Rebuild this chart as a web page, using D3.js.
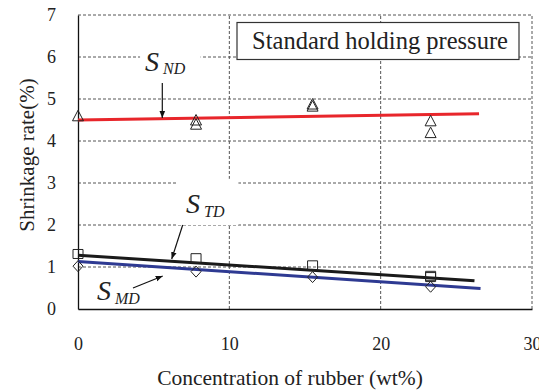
<!DOCTYPE html>
<html>
<head>
<meta charset="utf-8">
<script src="https://cdn.jsdelivr.net/npm/d3@7"></script>
<style>
  body { margin: 0; background: #fff; }
  text { font-family: 'Liberation Serif', 'Times New Roman', serif; fill: #222; }
</style>
</head>
<body>
<div id="chart"></div>
<script>
// measured data (wt% rubber vs shrinkage %)
const xTicks = [0, 10, 20, 30];
const yTicks = [0, 1, 2, 3, 4, 5, 6, 7];

const ndPoints = [[0, 4.6], [7.8, 4.5], [7.8, 4.4], [15.5, 4.88], [15.5, 4.83], [23.3, 4.48], [23.3, 4.2]];
const tdPoints = [[0, 1.31], [7.8, 1.21], [15.5, 1.04], [23.3, 0.79], [23.3, 0.76]];
const mdPoints = [[0, 1.02], [7.8, 0.89], [15.5, 0.76], [23.3, 0.53]];

const ndFit = [[0, 4.5], [26.5, 4.65]];
const tdFit = [[0, 1.28], [26.2, 0.67]];
const mdFit = [[0, 1.13], [26.6, 0.49]];

const width = 539;
const height = 390;
const margin = { top: 15, right: 7, bottom: 81, left: 78 };

const svg = d3
  .select('#chart')
  .append('svg')
  .attr('width', width)
  .attr('height', height);

const x = d3.scaleLinear().domain([0, 30]).range([margin.left, width - margin.right]);
const y = d3.scaleLinear().domain([0, 7]).range([height - margin.bottom, margin.top]);

// grid
const grid = svg.append('g').attr('stroke', '#555').attr('stroke-width', 1).attr('stroke-dasharray', '3,2');
grid
  .selectAll('line.h')
  .data(yTicks.filter((d) => d > 0))
  .enter()
  .append('line')
  .attr('x1', x(0))
  .attr('x2', x(30))
  .attr('y1', (d) => y(d))
  .attr('y2', (d) => y(d));
grid
  .selectAll('line.v')
  .data(xTicks.filter((d) => d > 0))
  .enter()
  .append('line')
  .attr('x1', (d) => x(d))
  .attr('x2', (d) => x(d))
  .attr('y1', y(0))
  .attr('y2', y(7));

// white patches behind the S labels
const patches = [
  { x0: 4.1, x1: 8.1, y0: 6.35, y1: 5.7 },
  { x0: 6.6, x1: 10.6, y0: 3.1, y1: 2.0 }
];
svg
  .selectAll('rect.patch')
  .data(patches)
  .enter()
  .append('rect')
  .attr('x', (d) => x(d.x0))
  .attr('y', (d) => y(d.y0))
  .attr('width', (d) => x(d.x1) - x(d.x0))
  .attr('height', (d) => y(d.y1) - y(d.y0))
  .attr('fill', '#fff');

// axes
const xAxis = svg
  .append('g')
  .attr('transform', `translate(0,${y(0)})`)
  .call(d3.axisBottom(x).tickValues(xTicks).tickFormat(d3.format('d')).tickSize(0).tickSizeOuter(0).tickPadding(28));
const yAxis = svg
  .append('g')
  .attr('transform', `translate(${x(0)},0)`)
  .call(d3.axisLeft(y).tickValues(yTicks).tickFormat(d3.format('d')).tickSize(0).tickSizeOuter(0).tickPadding(22));
[xAxis, yAxis].forEach((g) => {
  g.attr('font-family', "'Liberation Serif', serif").attr('font-size', 18);
  g.select('.domain').attr('stroke', '#111').attr('stroke-width', 1.3);
  g.selectAll('text').attr('fill', '#222');
});

// fitted lines
const line = d3
  .line()
  .x((d) => x(d[0]))
  .y((d) => y(d[1]));
[
  [ndFit, '#e8262b'],
  [tdFit, '#1a1a1a'],
  [mdFit, '#2e3a92']
].forEach(([data, color]) => {
  svg.append('path').datum(data).attr('d', line).attr('fill', 'none').attr('stroke', color).attr('stroke-width', 3);
});

// marker shapes
const triangle = {
  draw(ctx) {
    ctx.moveTo(0, -5.5);
    ctx.lineTo(5.5, 5);
    ctx.lineTo(-5.5, 5);
    ctx.closePath();
  }
};
const square = {
  draw(ctx) {
    ctx.rect(-5, -4.5, 10, 9);
  }
};
const diamond = {
  draw(ctx) {
    ctx.moveTo(0, -5.5);
    ctx.lineTo(5, 0);
    ctx.lineTo(0, 5.5);
    ctx.lineTo(-5, 0);
    ctx.closePath();
  }
};

[
  [ndPoints, triangle],
  [tdPoints, square],
  [mdPoints, diamond]
].forEach(([data, type]) => {
  svg
    .append('g')
    .selectAll('path')
    .data(data)
    .enter()
    .append('path')
    .attr('d', d3.symbol().type(type))
    .attr('transform', (d) => `translate(${x(d[0])},${y(d[1])})`)
    .attr('fill', 'none')
    .attr('stroke', '#222')
    .attr('stroke-width', 1);
});

// S labels with subscripts
const labels = [
  { main: 'S', sub: 'ND', px: 145, py: 70.5 },
  { main: 'S', sub: 'TD', px: 186, py: 213 },
  { main: 'S', sub: 'MD', px: 97, py: 300 }
];
labels.forEach((l) => {
  const t = svg
    .append('text')
    .attr('x', l.px)
    .attr('y', l.py)
    .style('font-style', 'italic')
    .style('font-size', '28px');
  t.append('tspan').text(l.main);
  t.append('tspan').attr('dx', 4).attr('dy', 3.5).style('font-size', '16px').text(l.sub);
});

// arrows
svg
  .append('defs')
  .append('marker')
  .attr('id', 'arrow')
  .attr('viewBox', '0 0 10 10')
  .attr('refX', 10)
  .attr('refY', 5)
  .attr('markerWidth', 7)
  .attr('markerHeight', 7)
  .attr('markerUnits', 'userSpaceOnUse')
  .attr('orient', 'auto')
  .append('path')
  .attr('d', 'M0,1 L10,5 L0,9 Z')
  .attr('fill', '#111');

const arrows = [
  [162.3, 83, 162.3, 118],
  [182.7, 225, 171.7, 259],
  [133, 288, 162.7, 276]
];
svg
  .selectAll('line.arrow')
  .data(arrows)
  .enter()
  .append('line')
  .attr('x1', (d) => d[0])
  .attr('y1', (d) => d[1])
  .attr('x2', (d) => d[2])
  .attr('y2', (d) => d[3])
  .attr('stroke', '#111')
  .attr('stroke-width', 1.2)
  .attr('marker-end', 'url(#arrow)');

// title box
svg
  .append('rect')
  .attr('x', 237)
  .attr('y', 22.5)
  .attr('width', 282)
  .attr('height', 37)
  .attr('fill', '#fff')
  .attr('stroke', '#333')
  .attr('stroke-width', 1.2);
svg
  .append('text')
  .attr('x', 380)
  .attr('y', 49)
  .attr('text-anchor', 'middle')
  .style('font-size', '24.5px')
  .text('Standard holding pressure');

// axis titles
svg
  .append('text')
  .attr('x', 290)
  .attr('y', 385)
  .attr('text-anchor', 'middle')
  .style('font-size', '21.5px')
  .text('Concentration of rubber (wt%)');
svg
  .append('text')
  .attr('transform', 'translate(34,155) rotate(-90)')
  .attr('text-anchor', 'middle')
  .style('font-size', '21px')
  .text('Shrinkage rate(%)');
</script>
</body>
</html>
